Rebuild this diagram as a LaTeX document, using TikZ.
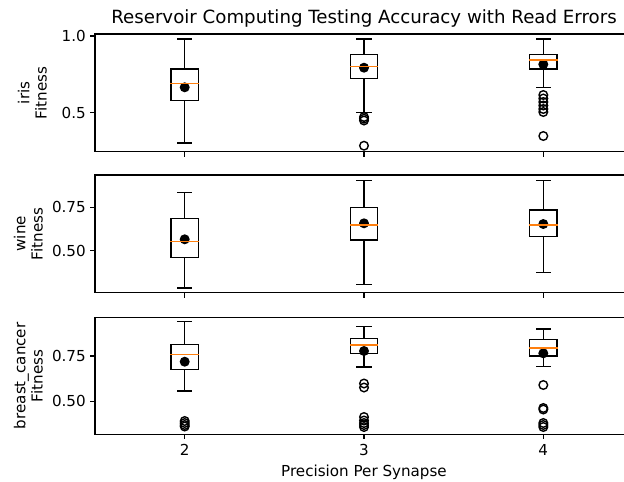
\documentclass[tikz,border=0pt]{standalone}
\usepackage{fontspec}
\setmainfont{DejaVu Sans}
\definecolor{mplorange}{HTML}{FF7F0E}
\newcommand\bplot[7]{%
  \draw[bp] (#1,#3) -- (#1,#2) (#1-6.83,#2) -- (#1+6.83,#2);
  \draw[bp] (#1,#5) -- (#1,#6) (#1-6.83,#6) -- (#1+6.83,#6);
  \draw[bp] (#1-13.65,#3) rectangle (#1+13.65,#5);
  \fill[black] (#1,#7) circle[radius=3.6pt];
  \draw[med] (#1-13.65,#4) -- (#1+13.65,#4);
}
\newcommand\fliers[2]{\foreach \yy in {#2} {\draw[flier] (#1,\yy) circle[radius=3.1pt];}}
\newcommand\panelframe[2]{%
  \draw[spine] (95,#1) rectangle (633,#2);
  \foreach \xx in {184.7,364,543.3} {\draw[spine] (\xx,#2) -- (\xx,#2+4.86);}
}
\newcommand\ytk[2]{\draw[spine] (95,#1) -- (90.14,#1); \node[tl,anchor=east] at (86,#1) {#2};}
\begin{document}
\begin{tikzpicture}[x=0.72pt,y=-0.72pt,
  spine/.style={line width=0.8pt,black},
  bp/.style={line width=1pt,black,line cap=rect},
  med/.style={line width=1.1pt,mplorange,line cap=rect},
  flier/.style={draw=black,line width=1pt,fill=none},
  tl/.style={font=\fontsize{10.9}{13.1}\selectfont,inner sep=0pt},
  ylab/.style={font=\fontsize{10.9}{12.4}\selectfont,inner sep=0pt,rotate=90,align=center,anchor=south}]
\clip (0,0) rectangle (624,481);
\fill[white] (0,0) rectangle (624,481);
% title
\node[font=\fontsize{13.1}{15}\selectfont,inner sep=0pt,anchor=base] (title) at (364,23.5) {Reservoir Computing Testing Accuracy with Read Errors};
% ---------- panel 1: iris
\panelframe{34}{151.7}
\ytk{36}{1.0}
\ytk{112.7}{0.5}
\node[ylab] (yl1) at (47,92.9) {iris\\Fitness};
\bplot{184.7}{39}{69}{83.5}{100.7}{143}{87.3}
\bplot{364}{39}{54.3}{66.7}{78.3}{112.7}{67.7}
\fliers{364}{117,118.7,120.5,145.7}
\bplot{543.3}{39}{54.3}{60}{69}{87.7}{64.3}
\fliers{543.3}{95,98.5,102,105.5,109,112,136}
% ---------- panel 2: wine
\panelframe{175}{292.7}
\ytk{207.3}{0.75}
\ytk{250.7}{0.50}
\node[ylab] (yl2) at (43,233.8) {wine\\Fitness};
\bplot{184.7}{192.3}{218.3}{241.5}{257.7}{288}{239.3}
\bplot{364}{180.7}{207.3}{225}{240}{284.3}{223.3}
\bplot{543.3}{180.7}{210}{225}{236.7}{272.7}{224}
% ---------- panel 3: breast_cancer
\panelframe{317.3}{434.3}
\ytk{356}{0.75}
\ytk{401.3}{0.50}
\node[ylab] (yl3) at (43,375.8) {breast\_cancer\\Fitness};
\bplot{184.7}{321.7}{344.3}{354.3}{369.3}{391}{361.7}
\fliers{184.7}{421,423,425,426.5}
\bplot{364}{326.7}{338.3}{345}{353.3}{367}{351}
\fliers{364}{383.5,387.5,417,420.5,423,425,427}
\bplot{543.3}{329}{339.3}{348}{356}{366.3}{353.3}
\fliers{543.3}{385,408,409.5,423,425,427}
% x tick labels and x label
\node[tl,anchor=base] (xt2) at (184.7,455.5) {2};
\node[tl,anchor=base] (xt3) at (364,455.5) {3};
\node[tl,anchor=base] (xt4) at (543.3,455.5) {4};
\node[tl,anchor=base] (xlab) at (364,476) {Precision Per Synapse};
\end{tikzpicture}
\end{document}
